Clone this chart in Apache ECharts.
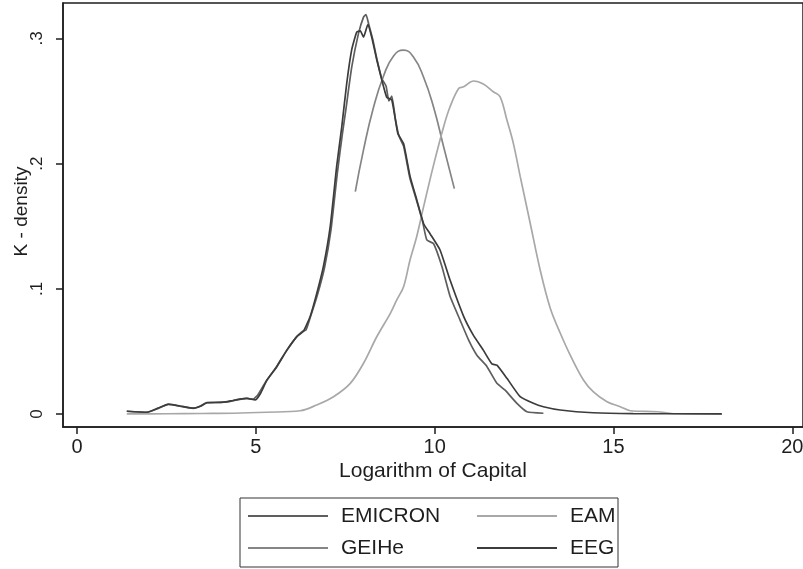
<!DOCTYPE html>
<html>
<head>
<meta charset="utf-8">
<script src="https://cdn.jsdelivr.net/npm/echarts@6/dist/echarts.min.js"></script>
<style>
  html, body { margin: 0; padding: 0; background: #ffffff; }
  #chart { width: 803px; height: 569px; }
</style>
</head>
<body>
<div id="chart"></div>
<script>
// Kernel density estimates of log capital, one [x, density] list per survey
const emicron = [
  [1.39, 0.0022], [1.95, 0.0013], [2.27, 0.0045], [2.55, 0.0078], [2.88, 0.0062],
  [3.25, 0.0045], [3.45, 0.0064], [3.63, 0.0090], [4.00, 0.0093], [4.20, 0.0097],
  [4.36, 0.0106], [4.55, 0.0117], [4.75, 0.0124], [4.92, 0.0118], [5.05, 0.0150],
  [5.28, 0.0260], [5.56, 0.0370], [5.84, 0.0500], [6.12, 0.0610], [6.30, 0.0660],
  [6.40, 0.0670], [6.52, 0.0770], [6.72, 0.0950], [6.92, 0.1170], [7.10, 0.1470],
  [7.28, 0.1930], [7.42, 0.2240], [7.52, 0.2440], [7.68, 0.2770], [7.87, 0.3040],
  [8.01, 0.3170], [8.08, 0.3190], [8.15, 0.3120], [8.27, 0.2990], [8.38, 0.2840],
  [8.52, 0.2680], [8.64, 0.2620], [8.72, 0.2500], [8.80, 0.2540], [8.90, 0.2360],
  [9.00, 0.2220], [9.13, 0.2140], [9.31, 0.1880], [9.50, 0.1700], [9.66, 0.1540],
  [9.78, 0.1390], [9.97, 0.1360], [10.20, 0.1180], [10.43, 0.0940], [10.71, 0.0750],
  [10.95, 0.0590], [11.18, 0.0470], [11.46, 0.0380], [11.74, 0.0245], [11.97, 0.0190],
  [12.30, 0.0085], [12.58, 0.0018], [13.04, 0.0006]
];

const geihe = [
  [7.78, 0.1776], [8.01, 0.2110], [8.29, 0.2450], [8.57, 0.2700], [8.85, 0.2860],
  [9.13, 0.2907], [9.41, 0.2850], [9.69, 0.2690], [9.97, 0.2450], [10.25, 0.2135],
  [10.55, 0.1800]
];

const eam = [
  [1.39, 0.0001], [2.50, 0.0002], [3.50, 0.0004], [4.37, 0.0006], [5.31, 0.0014],
  [6.24, 0.0026], [6.70, 0.0072], [7.17, 0.0138], [7.64, 0.0245], [8.01, 0.0405],
  [8.38, 0.0617], [8.76, 0.0804], [8.94, 0.0911], [9.13, 0.1017], [9.31, 0.1230],
  [9.50, 0.1420], [9.69, 0.1656], [9.97, 0.1990], [10.25, 0.2295], [10.43, 0.2454],
  [10.67, 0.2600], [10.81, 0.2614], [11.09, 0.2660], [11.36, 0.2636], [11.64, 0.2574],
  [11.83, 0.2534], [12.02, 0.2348], [12.20, 0.2162], [12.39, 0.1900], [12.67, 0.1526],
  [12.95, 0.1150], [13.23, 0.0847], [13.51, 0.0647], [13.79, 0.0471], [14.16, 0.0272],
  [14.44, 0.0176], [14.82, 0.0098], [15.19, 0.0058], [15.47, 0.0026], [16.22, 0.0018],
  [16.68, 0.0002], [18.03, 0.0000]
];

const eeg = [
  [1.39, 0.0022], [1.95, 0.0014], [2.27, 0.0048], [2.55, 0.0077], [2.88, 0.0064],
  [3.25, 0.0046], [3.45, 0.0062], [3.63, 0.0090], [4.00, 0.0092], [4.20, 0.0098],
  [4.36, 0.0108], [4.55, 0.0118], [4.75, 0.0124], [4.98, 0.0112], [5.12, 0.0160],
  [5.31, 0.0270], [5.59, 0.0380], [5.87, 0.0510], [6.15, 0.0620], [6.33, 0.0660],
  [6.52, 0.0780], [6.70, 0.0960], [6.89, 0.1180], [7.08, 0.1500], [7.26, 0.1980],
  [7.40, 0.2290], [7.54, 0.2640], [7.68, 0.2910], [7.82, 0.3050], [7.92, 0.3060],
  [8.01, 0.3010], [8.13, 0.3110], [8.24, 0.3010], [8.38, 0.2830], [8.52, 0.2670],
  [8.66, 0.2530], [8.80, 0.2510], [8.97, 0.2240], [9.13, 0.2160], [9.31, 0.1900],
  [9.50, 0.1710], [9.69, 0.1520], [9.87, 0.1440], [10.15, 0.1310], [10.43, 0.1070],
  [10.81, 0.0780], [11.08, 0.0630], [11.36, 0.0510], [11.60, 0.0400], [11.74, 0.0390],
  [12.02, 0.0285], [12.39, 0.0138], [12.76, 0.0085], [13.04, 0.0058], [13.51, 0.0032],
  [14.43, 0.0010], [15.55, 0.0003], [18.03, 0.0001]
];

const seriesNames = ['EMICRON', 'GEIHe', 'EAM', 'EEG'];
const xTicks = [0, 5, 10, 15, 20];
const yTicks = [0, 0.1, 0.2, 0.3];
const xTitle = 'Logarithm of Capital';
const yTitle = 'K - density';

const FONT = 'Liberation Sans, Arial, Helvetica, sans-serif';
const INK = '#1e1e1e';

const chart = echarts.init(document.getElementById('chart'), null, { renderer: 'canvas' });

function curve(name, data, color, smooth) {
  return {
    name: name,
    type: 'line',
    data: data,
    symbol: 'none',
    smooth: smooth,
    lineStyle: { color: color, width: 1.7 },
    itemStyle: { color: color },
    emphasis: { disabled: true },
    z: 3
  };
}

// two-column key: each column is its own vertical legend
const legendCommon = {
  orient: 'vertical',
  top: 505,
  padding: 0,
  icon: 'rect',
  itemWidth: 80,
  itemHeight: 2,
  itemGap: 10,
  selectedMode: false,
  textStyle: { fontFamily: FONT, fontSize: 21, lineHeight: 22, color: INK, padding: [0, 0, 0, 8] }
};

chart.setOption({
  backgroundColor: '#ffffff',
  animation: false,
  grid: {
    left: 63, right: 0, top: 3, bottom: 142,
    outerBoundsMode: 'none',
    containLabel: false,
    show: true, borderColor: INK, borderWidth: 1.5
  },
  xAxis: {
    type: 'value',
    min: -0.394, max: 20.3,
    name: xTitle,
    nameLocation: 'middle',
    nameGap: 34,
    nameMoveOverlap: false,
    nameTextStyle: { fontFamily: FONT, fontSize: 21, color: INK },
    axisLine: { show: true, onZero: false, lineStyle: { color: INK, width: 1.5 } },
    axisTick: { show: true, length: 7, customValues: xTicks, lineStyle: { color: INK, width: 1.5 } },
    axisLabel: { customValues: xTicks, margin: 10, fontFamily: FONT, fontSize: 20, color: INK },
    splitLine: { show: false }
  },
  yAxis: {
    type: 'value',
    min: -0.0104, max: 0.3283,
    name: yTitle,
    nameLocation: 'middle',
    nameGap: 32,
    nameRotate: 90,
    nameMoveOverlap: false,
    nameTextStyle: { fontFamily: FONT, fontSize: 19, color: INK, padding: [0, 0, 0, 7] },
    axisLine: { show: true, onZero: false, lineStyle: { color: INK, width: 1.5 } },
    axisTick: { show: true, length: 7, customValues: yTicks, lineStyle: { color: INK, width: 1.5 } },
    axisLabel: {
      customValues: yTicks,
      rotate: 90,
      margin: 17,
      fontFamily: FONT, fontSize: 17, color: INK,
      formatter: function (v) { return v === 0 ? '0' : String(+v.toFixed(1)).replace(/^0\./, '.'); }
    },
    splitLine: { show: false }
  },
  legend: [
    Object.assign({}, legendCommon, { left: 248, data: ['EMICRON', 'GEIHe'] }),
    Object.assign({}, legendCommon, { left: 477, data: ['EAM', 'EEG'] })
  ],
  graphic: [{
    type: 'rect',
    shape: { x: 240, y: 498, width: 378, height: 69 },
    style: { fill: null, stroke: '#333333', lineWidth: 1 },
    silent: true
  }],
  series: [
    curve(seriesNames[0], emicron, '#5e5e5e', 0.15),
    curve(seriesNames[1], geihe, '#858585', 0.5),
    curve(seriesNames[2], eam, '#a8a8a8', 0.35),
    curve(seriesNames[3], eeg, '#3c3c3c', 0.15)
  ]
});
</script>
</body>
</html>
